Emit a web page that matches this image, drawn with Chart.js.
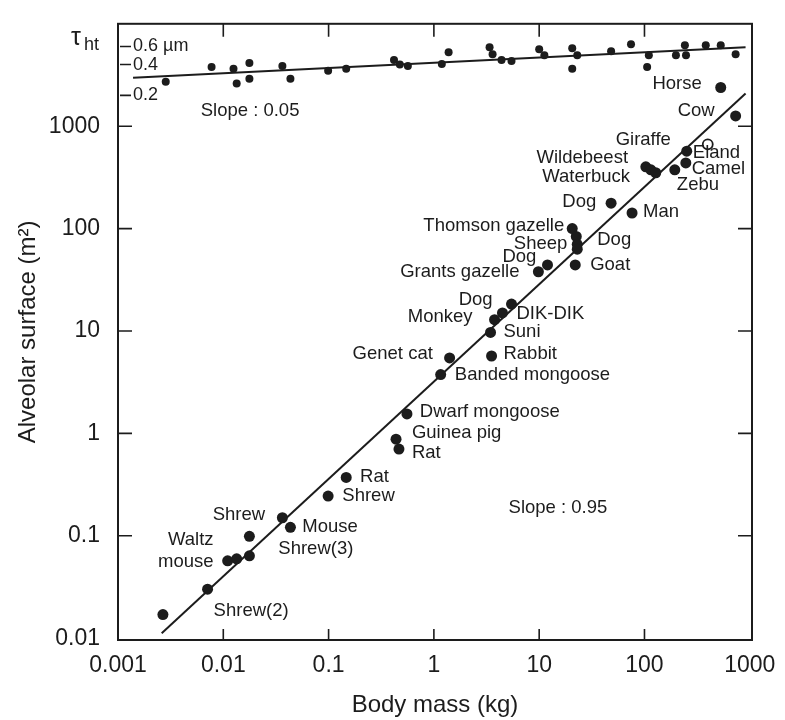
<!DOCTYPE html>
<html>
<head>
<meta charset="utf-8">
<script src="https://cdn.jsdelivr.net/npm/chart.js@4.4.1/dist/chart.umd.min.js"></script>
<style>
  html, body { margin: 0; padding: 0; background: #fff; }
  #wrap { width: 785px; height: 720px; }
</style>
</head>
<body>
<div id="wrap"><canvas id="lungChart"></canvas></div>
<script>
const ink = '#1c1c1c';
const fontFamily = '"Liberation Sans", Arial, sans-serif';

// Alveolar surface vs body mass
const bodyMass = [0.00267, 0.00709, 0.0110, 0.0134, 0.0177, 0.0177, 0.0364, 0.0434, 0.099, 0.147,
  0.437, 0.466, 0.555, 1.16, 1.41, 3.53, 3.45, 3.77, 4.48, 5.46, 9.83, 12.0, 20.6, 22.5, 23.0, 23.0,
  22.0, 48.2, 76.2, 103, 115, 128, 194, 247, 252, 530, 734];
const alveolarArea = [0.0170, 0.0301, 0.0570, 0.0596, 0.0637, 0.0989, 0.150, 0.121, 0.244, 0.371,
  0.877, 0.703, 1.55, 3.75, 5.46, 5.70, 9.68, 12.9, 15.0, 18.3, 37.9, 44.2, 100, 83.8, 70.3, 62.9,
  44.2, 177, 142, 401, 375, 351, 375, 438, 570, 2388, 1260];
const openMass = [399];
const openArea = [665];

// regression line, slope 0.95
const areaFitMass = [0.0026, 912];
const areaFitValue = [0.0112, 2090];

// harmonic mean barrier thickness (um), inset at the top
const tauMass = [0.00284, 0.00774, 0.0125, 0.0134, 0.0177, 0.0177, 0.0364, 0.0434, 0.099, 0.147,
  0.418, 0.475, 0.566, 1.19, 1.38, 3.38, 3.61, 4.39, 5.46, 10.0, 11.2, 20.6, 23.0, 20.6, 48.2, 74.5,
  110, 106, 199, 242, 248, 382, 530, 734];
const tauThickness = [0.272, 0.379, 0.363, 0.261, 0.414, 0.291, 0.388, 0.291, 0.348, 0.363,
  0.443, 0.40, 0.388, 0.406, 0.527, 0.589, 0.505, 0.443, 0.433, 0.564, 0.494, 0.577, 0.494, 0.363,
  0.540, 0.630, 0.494, 0.379, 0.494, 0.616, 0.494, 0.616, 0.616, 0.505];
const tauFitMass = [0.00139, 912];
const tauFitValue = [0.298, 0.589];

const xTicks = [0.001, 0.01, 0.1, 1, 10, 100, 1000];
const xTickLabels = ['0.001', '0.01', '0.1', '1', '10', '100', '1000'];
const yTicks = [0.01, 0.1, 1, 10, 100, 1000];
const yTickLabels = ['0.01', '0.1', '1', '10', '100', '1000'];
const tauTicks = [0.2, 0.4, 0.6];
const tauTickLabels = ['0.2', '0.4', '0.6 \u00b5m'];

// species labels, anchored in data units
const noteText = ['Horse', 'Cow', 'Giraffe', 'Eland', 'Camel', 'Zebu', 'Wildebeest', 'Waterbuck', 'Dog', 'Man',
  'Dog', 'Goat', 'Thomson gazelle', 'Sheep', 'Dog', 'Grants gazelle', 'Dog', 'Monkey', 'DIK-DIK', 'Suni',
  'Genet cat', 'Rabbit', 'Banded mongoose', 'Dwarf mongoose', 'Guinea pig', 'Rat', 'Rat', 'Shrew', 'Slope : 0.95',
  'Shrew', 'Mouse', 'Shrew(3)', 'Waltz', 'mouse', 'Shrew(2)', 'Slope : 0.05'];
const noteMass = [350, 464, 178, 288, 281, 203, 69.8, 72.9, 34.8, 96.8,
  35.6, 30.5, 17.3, 18.5, 9.41, 6.50, 3.61, 2.33, 6.09, 4.58,
  0.977, 4.58, 1.58, 0.736, 0.618, 0.618, 0.199, 0.135, 5.12,
  0.00792, 0.0562, 0.0333, 0.00809, 0.00809, 0.00809, 0.0061];
const noteArea = [2605, 1406, 743, 546, 384, 270, 489, 321, 181, 146,
  76.7, 44.2, 107, 70.3, 52.7, 37.9, 20.0, 13.8, 14.7, 9.89,
  5.96, 5.96, 3.75, 1.63, 1.02, 0.644, 0.379, 0.244, 0.188,
  0.161, 0.121, 0.0743, 0.0906, 0.0557, 0.0185, 1406];
const noteAlign = ['right', 'right', 'right', 'left', 'left', 'left', 'right', 'right', 'right', 'left',
  'left', 'left', 'right', 'right', 'right', 'right', 'right', 'right', 'left', 'left',
  'right', 'left', 'left', 'left', 'left', 'left', 'left', 'left', 'left',
  'left', 'left', 'left', 'right', 'right', 'left', 'left'];

const pts = (xs, ys) => xs.map((x, i) => ({ x: x, y: ys[i] }));

const framePlugin = {
  id: 'frame',
  afterDraw(chart) {
    const { ctx, chartArea: a, scales } = chart;
    const sx = scales.x, sy = scales.y, st = scales.yTau;
    ctx.save();
    ctx.strokeStyle = ink;
    ctx.lineWidth = 2;
    ctx.strokeRect(a.left, a.top, a.right - a.left, a.bottom - a.top);

    // inward tick marks on all four sides
    ctx.lineWidth = 1.6;
    ctx.beginPath();
    xTicks.forEach(v => {
      const px = sx.getPixelForValue(v);
      if (px < a.left + 4 || px > a.right - 4) return;
      ctx.moveTo(px, a.bottom); ctx.lineTo(px, a.bottom - 11);
      ctx.moveTo(px, a.top); ctx.lineTo(px, a.top + 13);
    });
    yTicks.forEach(v => {
      const py = sy.getPixelForValue(v);
      if (py > a.bottom - 4 || py < a.top + 4) return;
      ctx.moveTo(a.left, py); ctx.lineTo(a.left + 14, py);
      ctx.moveTo(a.right, py); ctx.lineTo(a.right - 14, py);
    });
    tauTicks.forEach(v => {
      const py = st.getPixelForValue(v);
      ctx.moveTo(a.left + 2, py); ctx.lineTo(a.left + 13, py);
    });
    ctx.stroke();

    ctx.fillStyle = ink;
    ctx.textBaseline = 'middle';
    ctx.font = '18px ' + fontFamily;
    ctx.textAlign = 'left';
    tauTicks.forEach((v, i) => {
      ctx.fillText(tauTickLabels[i], a.left + 15, st.getPixelForValue(v));
    });

    // tau_ht symbol left of the inset
    ctx.textBaseline = 'alphabetic';
    ctx.font = '25px ' + fontFamily;
    ctx.fillText('\u03c4', 71, 45);
    ctx.font = '18px ' + fontFamily;
    ctx.fillText('ht', 84, 50);

    ctx.font = '18.5px ' + fontFamily;
    ctx.textBaseline = 'middle';
    noteText.forEach((t, i) => {
      ctx.textAlign = noteAlign[i];
      ctx.fillText(t, sx.getPixelForValue(noteMass[i]), sy.getPixelForValue(noteArea[i]));
    });
    ctx.restore();
  }
};

const ctxLung = document.getElementById('lungChart').getContext('2d');
new Chart(ctxLung, {
  type: 'scatter',
  data: {
    datasets: [
      { label: 'Alveolar surface', data: pts(bodyMass, alveolarArea), backgroundColor: ink,
        borderWidth: 0, pointRadius: 5.5, yAxisID: 'y' },
      { label: 'Open', data: pts(openMass, openArea), backgroundColor: '#fff', borderColor: ink,
        borderWidth: 1.8, pointRadius: 5, yAxisID: 'y' },
      { label: 'Fit', type: 'line', data: pts(areaFitMass, areaFitValue), borderColor: ink,
        borderWidth: 2, pointRadius: 0, yAxisID: 'y' },
      { label: 'Barrier', data: pts(tauMass, tauThickness), backgroundColor: ink,
        borderWidth: 0, pointRadius: 4, yAxisID: 'yTau' },
      { label: 'Barrier fit', type: 'line', data: pts(tauFitMass, tauFitValue), borderColor: ink,
        borderWidth: 2, pointRadius: 0, yAxisID: 'yTau' }
    ]
  },
  options: {
    responsive: true,
    maintainAspectRatio: false,
    animation: false,
    devicePixelRatio: 1,
    layout: { padding: { left: 0, top: 11, right: 33, bottom: 0 } },
    plugins: { legend: { display: false }, tooltip: { enabled: false } },
    scales: {
      x: {
        type: 'logarithmic', min: 0.001, max: 1050,
        afterBuildTicks: s => { s.ticks = xTicks.map(v => ({ value: v })); },
        afterFit: s => { s.height = 80; },
        grid: { display: false }, border: { display: false },
        ticks: { callback: (v, i) => xTickLabels[i], font: { size: 23, family: fontFamily }, color: ink,
          padding: 4, maxRotation: 0, autoSkip: false },
        title: { display: true, text: 'Body mass (kg)', font: { size: 24, family: fontFamily }, color: ink,
          padding: { top: 0, bottom: 0 } }
      },
      y: {
        type: 'logarithmic', min: 0.0096, max: 10000,
        afterBuildTicks: s => { s.ticks = yTicks.map(v => ({ value: v })); },
        afterFit: s => { s.width = 118; },
        grid: { display: false }, border: { display: false },
        ticks: { callback: (v, i) => yTickLabels[i], font: { size: 23, family: fontFamily }, color: ink,
          padding: 10, autoSkip: false },
        title: { display: true, text: 'Alveolar surface (m\u00b2)', font: { size: 24, family: fontFamily },
          color: ink, padding: { top: 14, bottom: 0 } }
      },
      yTau: {
        type: 'logarithmic', display: false, min: 0.0096e-4, max: 1
      }
    }
  },
  plugins: [framePlugin]
});
</script>
</body>
</html>
